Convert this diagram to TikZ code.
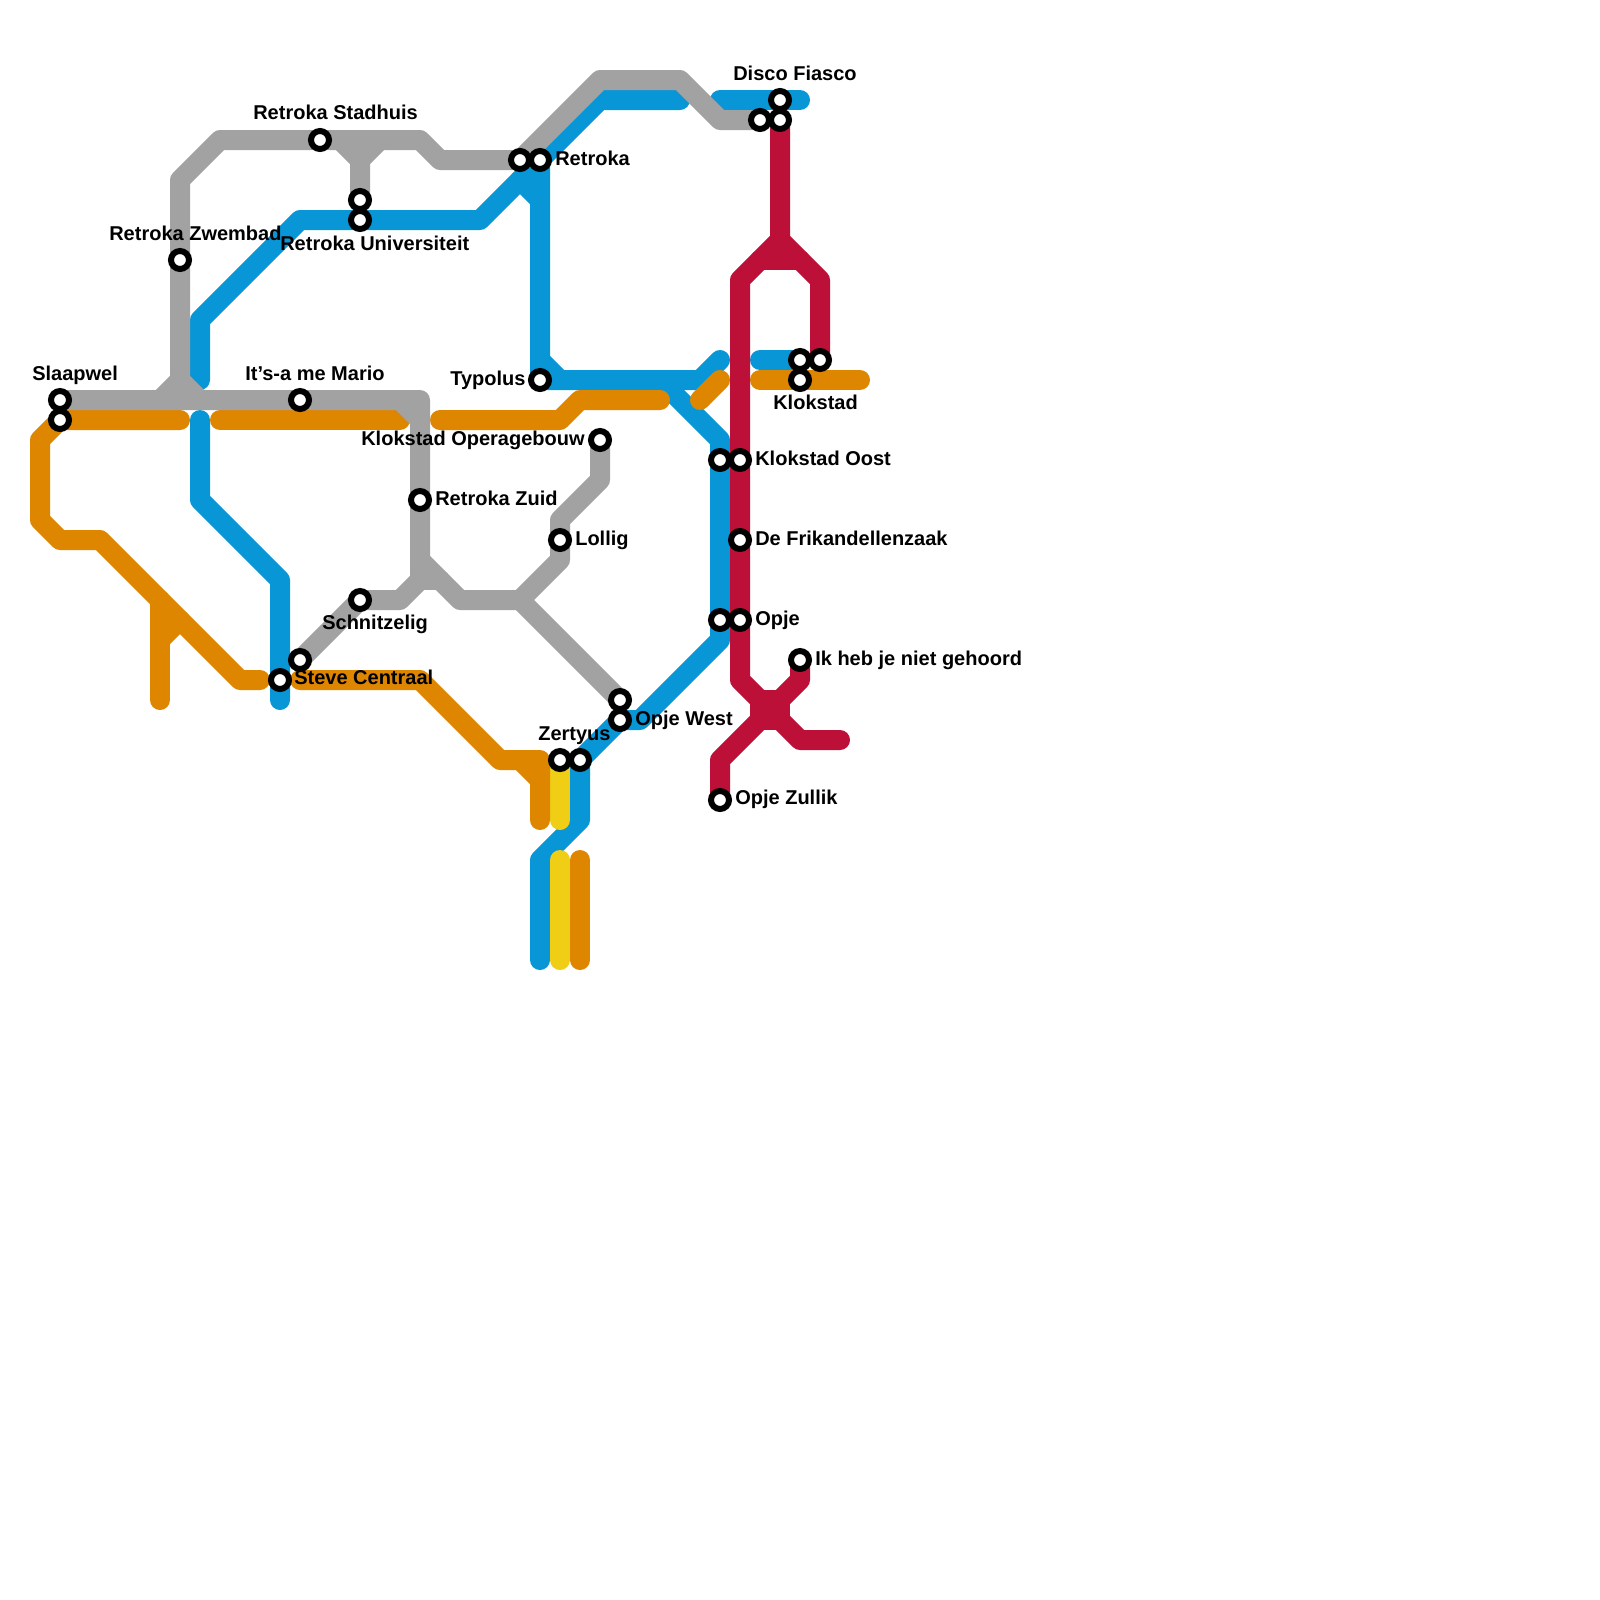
\documentclass[tikz,border=0pt]{standalone}
\usepackage{fontspec}
\setmainfont{Liberation Sans}
\usetikzlibrary{backgrounds}
\definecolor{linegrey}{HTML}{A2A2A2}
\definecolor{lineblue}{HTML}{0896D7}
\definecolor{lineorange}{HTML}{DF8600}
\definecolor{lineyellow}{HTML}{EFCE15}
\definecolor{linered}{HTML}{BD1038}
\tikzset{
  stop/.style={circle,draw=black,fill=white,line width=0.15cm,minimum size=0.45cm,inner sep=0pt},
  stoptext/.style={anchor=base west,inner sep=0pt,font=\fontsize{14.23}{17}\selectfont\bfseries},
  track/.style={line width=0.5cm,line cap=round,line join=round},
  grey_track/.style={track,draw=linegrey},
  blue_track/.style={track,draw=lineblue},
  orange_track/.style={track,draw=lineorange},
  yellow_track/.style={track,draw=lineyellow},
  red_track/.style={track,draw=linered},
}
\begin{document}
\begin{tikzpicture}[x=0.5cm,y=-0.5cm]
  \useasboundingbox (0,0) rectangle (80,80);

  % stops
  \node[stop] (slaapwel1) at (3,20) {};
  \node[stop] (slaapwel2) at (3,21) {};
  \node[stop] (zwembad) at (9,13) {};
  \node[stop] (stadhuis) at (16,7) {};
  \node[stop] (univ1) at (18,10) {};
  \node[stop] (univ2) at (18,11) {};
  \node[stop] (mario) at (15,20) {};
  \node[stop] (retroka1) at (26,8) {};
  \node[stop] (retroka2) at (27,8) {};
  \node[stop] (typolus) at (27,19) {};
  \node[stop] (disco1) at (39,5) {};
  \node[stop] (disco2) at (38,6) {};
  \node[stop] (disco3) at (39,6) {};
  \node[stop] (klokstad1) at (40,18) {};
  \node[stop] (klokstad2) at (41,18) {};
  \node[stop] (klokstad3) at (40,19) {};
  \node[stop] (oost1) at (36,23) {};
  \node[stop] (oost2) at (37,23) {};
  \node[stop] (opera) at (30,22) {};
  \node[stop] (zuid) at (21,25) {};
  \node[stop] (lollig) at (28,27) {};
  \node[stop] (frikandel) at (37,27) {};
  \node[stop] (opje1) at (36,31) {};
  \node[stop] (opje2) at (37,31) {};
  \node[stop] (gehoord) at (40,33) {};
  \node[stop] (west1) at (31,35) {};
  \node[stop] (west2) at (31,36) {};
  \node[stop] (zertyus1) at (28,38) {};
  \node[stop] (zertyus2) at (29,38) {};
  \node[stop] (zullik) at (36,40) {};
  \node[stop] (schnitzel) at (18,30) {};
  \node[stop] (steve1) at (15,33) {};
  \node[stop] (steve2) at (14,34) {};

  % labels
  \node[stoptext] (slaapwelT) at (1.6,19) {Slaapwel};
  \node[stoptext] (zwembadT) at (5.45,12) {Retroka Zwembad};
  \node[stoptext] (stadhuisT) at (12.65,5.95) {Retroka Stadhuis};
  \node[stoptext] (univT) at (14.0,12.5) {Retroka Universiteit};
  \node[stoptext] (marioT) at (12.25,19) {It’s-a me Mario};
  \node[stoptext] (typolusT) at (22.5,19.25) {Typolus};
  \node[stoptext] (discoT) at (36.65,4) {Disco Fiasco};
  \node[stoptext] (retrokaT) at (27.75,8.25) {Retroka};
  \node[stoptext] (klokstadT) at (38.65,20.45) {Klokstad};
  \node[stoptext] (oostT) at (37.75,23.25) {Klokstad Oost};
  \node[stoptext] (operaT) at (18.05,22.25) {Klokstad Operagebouw};
  \node[stoptext] (zuidT) at (21.75,25.25) {Retroka Zuid};
  \node[stoptext] (lolligT) at (28.75,27.25) {Lollig};
  \node[stoptext] (frikandelT) at (37.75,27.25) {De Frikandellenzaak};
  \node[stoptext] (opjeT) at (37.75,31.25) {Opje};
  \node[stoptext] (gehoordT) at (40.75,33.25) {Ik heb je niet gehoord};
  \node[stoptext] (westT) at (31.75,36.25) {Opje West};
  \node[stoptext] (zertyusT) at (26.9,37) {Zertyus};
  \node[stoptext] (zullikT) at (36.75,40.2) {Opje Zullik};
  \node[stoptext] (schnitzelT) at (16.1,31.45) {Schnitzelig};
  \node[stoptext] (steveT) at (14.7,34.2) {Steve Centraal};

  % free ends
  \coordinate (blueA) at (10,19);
  \coordinate (blueB) at (10,21);
  \coordinate (blueC) at (34,5);
  \coordinate (blueD) at (36,5);
  \coordinate (blueE) at (40,5);
  \coordinate (blueF) at (36,18);
  \coordinate (blueG) at (38,18);
  \coordinate (blueH) at (27,48);
  \coordinate (blueJ) at (29,41);
  \coordinate (blueK) at (14,35);
  \coordinate (orangeA) at (9,21);
  \coordinate (orangeB) at (11,21);
  \coordinate (orangeC) at (20,21);
  \coordinate (orangeD) at (22,21);
  \coordinate (orangeE) at (33,20);
  \coordinate (orangeF) at (35,20);
  \coordinate (orangeG) at (36,19);
  \coordinate (orangeH) at (38,19);
  \coordinate (orangeJ) at (43,19);
  \coordinate (orangeK) at (13,34);
  \coordinate (orangeL) at (8,35);
  \coordinate (orangeM) at (15,34);
  \coordinate (orangeN) at (27,41);
  \coordinate (orangeP) at (29,43);
  \coordinate (orangeQ) at (29,48);
  \coordinate (yellowA) at (28,41);
  \coordinate (yellowB) at (28,43);
  \coordinate (yellowC) at (28,48);
  \coordinate (redA) at (42,37);

  \begin{scope}[on background layer]
    \draw[blue_track] (blueA) -- (10,16) -- (15,11) -- (24,11) -- (27,8) -- (30,5) -- (blueC);
    \draw[blue_track] (26,9) -- (27,10);
    \draw[blue_track] (retroka2.center) -- (typolus.center) -- (33,19) -- (35,19) -- (blueF);
    \draw[blue_track] (27,18) -- (28,19);
    \draw[blue_track] (33,19) -- (36,22) -- (36,32) -- (32,36) -- (west2.center) -- (zertyus2.center) -- (blueJ) -- (27,43) -- (blueH);
    \draw[blue_track] (blueB) -- (10,25) -- (14,29) -- (blueK);
    \draw[blue_track] (blueG) -- (klokstad1.center);
    \draw[blue_track] (blueD) -- (blueE);

    \draw[yellow_track] (zertyus1.center) -- (yellowA);
    \draw[yellow_track] (yellowB) -- (yellowC);

    \draw[orange_track] (orangeA) -- (slaapwel2.center) -- (2,22) -- (2,26) -- (3,27) -- (5,27) -- (12,34) -- (orangeK);
    \draw[orange_track] (8,30) -- (orangeL);
    \draw[orange_track] (8,32) -- (9,31);
    \draw[orange_track] (orangeB) -- (orangeC);
    \draw[orange_track] (orangeD) -- (28,21) -- (29,20) -- (orangeE);
    \draw[orange_track] (orangeF) -- (orangeG);
    \draw[orange_track] (orangeH) -- (orangeJ);
    \draw[orange_track] (orangeM) -- (21,34) -- (25,38) -- (27,38) -- (orangeN);
    \draw[orange_track] (26,38) -- (27,39);
    \draw[orange_track] (orangeP) -- (orangeQ);

    \draw[red_track] (disco3.center) -- (39,12) -- (37,14) -- (37,34) -- (38,35) -- (39,36) -- (40,37) -- (redA);
    \draw[red_track] (39,12) -- (41,14) -- (klokstad2.center);
    \draw[red_track] (38,13) -- (40,13);
    \draw[red_track] (gehoord.center) -- (40,34) -- (39,35) -- (38,36) -- (36,38) -- (zullik.center);
    \draw[red_track] (38,35) -- (39,35) -- (39,36) -- (38,36) -- cycle;

    \draw[grey_track] (slaapwel1.center) -- (21,20) -- (21,28) -- (23,30) -- (26,30) -- (28,28) -- (28,26) -- (30,24) -- (opera.center);
    \draw[grey_track] (20,20) -- (21,21);
    \draw[grey_track] (8,20) -- (9,19) -- (9,9) -- (11,7) -- (21,7) -- (22,8) -- (retroka1.center) -- (30,4) -- (34,4) -- (36,6) -- (disco2.center);
    \draw[grey_track] (9,19) -- (10,20);
    \draw[grey_track] (17,7) -- (18,8) -- (univ1.center);
    \draw[grey_track] (18,8) -- (19,7);
    \draw[grey_track] (steve1.center) -- (schnitzel.center) -- (20,30) -- (21,29) -- (21,28);
    \draw[grey_track] (21,29) -- (22,29);
    \draw[grey_track] (26,30) -- (west1.center);
  \end{scope}
\end{tikzpicture}
\end{document}
